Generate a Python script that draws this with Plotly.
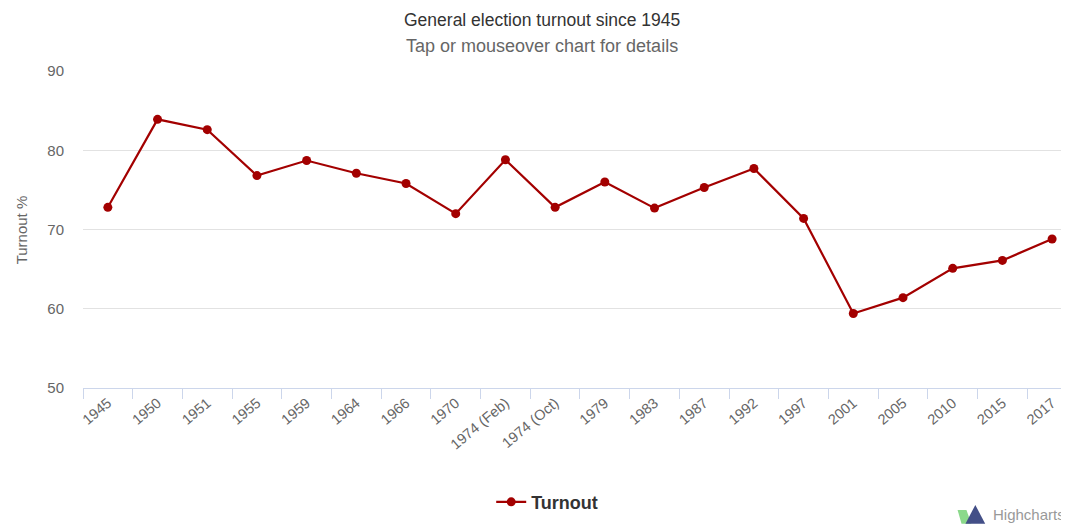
"""General election turnout since 1945 - Highcharts-style line chart in Plotly."""

import plotly.graph_objects as go

elections = [
    "1945", "1950", "1951", "1955", "1959", "1964", "1966", "1970",
    "1974 (Feb)", "1974 (Oct)", "1979", "1983", "1987", "1992", "1997",
    "2001", "2005", "2010", "2015", "2017",
]
turnout = [
    72.8, 83.9, 82.6, 76.8, 78.7, 77.1, 75.8, 72.0,
    78.8, 72.8, 76.0, 72.7, 75.3, 77.7, 71.4,
    59.4, 61.4, 65.1, 66.1, 68.8,
]
y_ticks = [50, 60, 70, 80, 90]

RED = "#a30000"
FONT = "Liberation Sans, Arial, sans-serif"

fig = go.Figure()
fig.add_trace(
    go.Scatter(
        x=elections,
        y=turnout,
        mode="lines+markers",
        name="Turnout",
        line={"color": RED, "width": 2.2},
        marker={"color": RED, "size": 9},
    )
)

# plot area runs past the right edge of the screenshot, so clip the range
fig.update_xaxes(
    type="category",
    range=[-0.5, 19.34],
    showgrid=False,
    showline=True,
    linecolor="#ccd6eb",
    linewidth=1,
    ticks="outside",
    tickson="boundaries",
    ticklen=10,
    tickcolor="#ccd6eb",
    tickangle=-40,
    tickfont={"family": FONT, "size": 14.5, "color": "#666666"},
)
fig.update_yaxes(
    range=[50, 90],
    tickvals=y_ticks,
    showgrid=True,
    gridcolor="#e2e2e2",
    gridwidth=1.2,
    zeroline=False,
    showline=False,
    ticks="",
    ticklabelstandoff=18,
    tickfont={"family": FONT, "size": 15, "color": "#666666"},
)

fig.add_annotation(
    text="General election turnout since 1945",
    xref="paper", yref="paper", x=0.466, y=1.161,
    xanchor="center", yanchor="middle", showarrow=False,
    font={"family": FONT, "size": 17.5, "color": "#333333"},
)
fig.add_annotation(
    text="Tap or mouseover chart for details",
    xref="paper", yref="paper", x=0.466, y=1.079,
    xanchor="center", yanchor="middle", showarrow=False,
    font={"family": FONT, "size": 18, "color": "#666666"},
)
fig.add_annotation(
    text="Turnout %",
    xref="paper", yref="paper", x=-0.062, y=0.5,
    xanchor="center", yanchor="middle", textangle=-90, showarrow=False,
    font={"family": FONT, "size": 15, "color": "#666666"},
)
fig.add_annotation(
    text="Highcharts",
    xref="paper", yref="paper", x=0.921, y=-0.40,
    xanchor="left", yanchor="middle", showarrow=False,
    font={"family": FONT, "size": 15, "color": "#999999"},
)

# little credit logo next to "Highcharts"
fig.add_shape(
    type="path", xref="paper", yref="paper",
    path="M 0.887,-0.385 L 0.896,-0.385 L 0.901,-0.428 L 0.891,-0.428 Z",
    fillcolor="#8bd98b", line={"width": 0},
)
fig.add_shape(
    type="path", xref="paper", yref="paper",
    path="M 0.895,-0.428 L 0.905,-0.369 L 0.915,-0.428 Z",
    fillcolor="#434f87", line={"width": 0},
)

# page body adds an 8px offset, so the figure is sized 8px short of the window
fig.update_layout(
    width=1061,
    height=516,
    margin={"l": 75, "r": 0, "t": 63, "b": 136},
    plot_bgcolor="white",
    paper_bgcolor="white",
    font={"family": FONT},
    showlegend=True,
    legend={
        "orientation": "h",
        "x": 0.414,
        "y": -0.36,
        "xanchor": "left",
        "yanchor": "middle",
        "font": {"family": FONT, "size": 18, "color": "#333333", "weight": "bold"},
        "itemwidth": 30,
    },
)

fig.write_html("out.html")
